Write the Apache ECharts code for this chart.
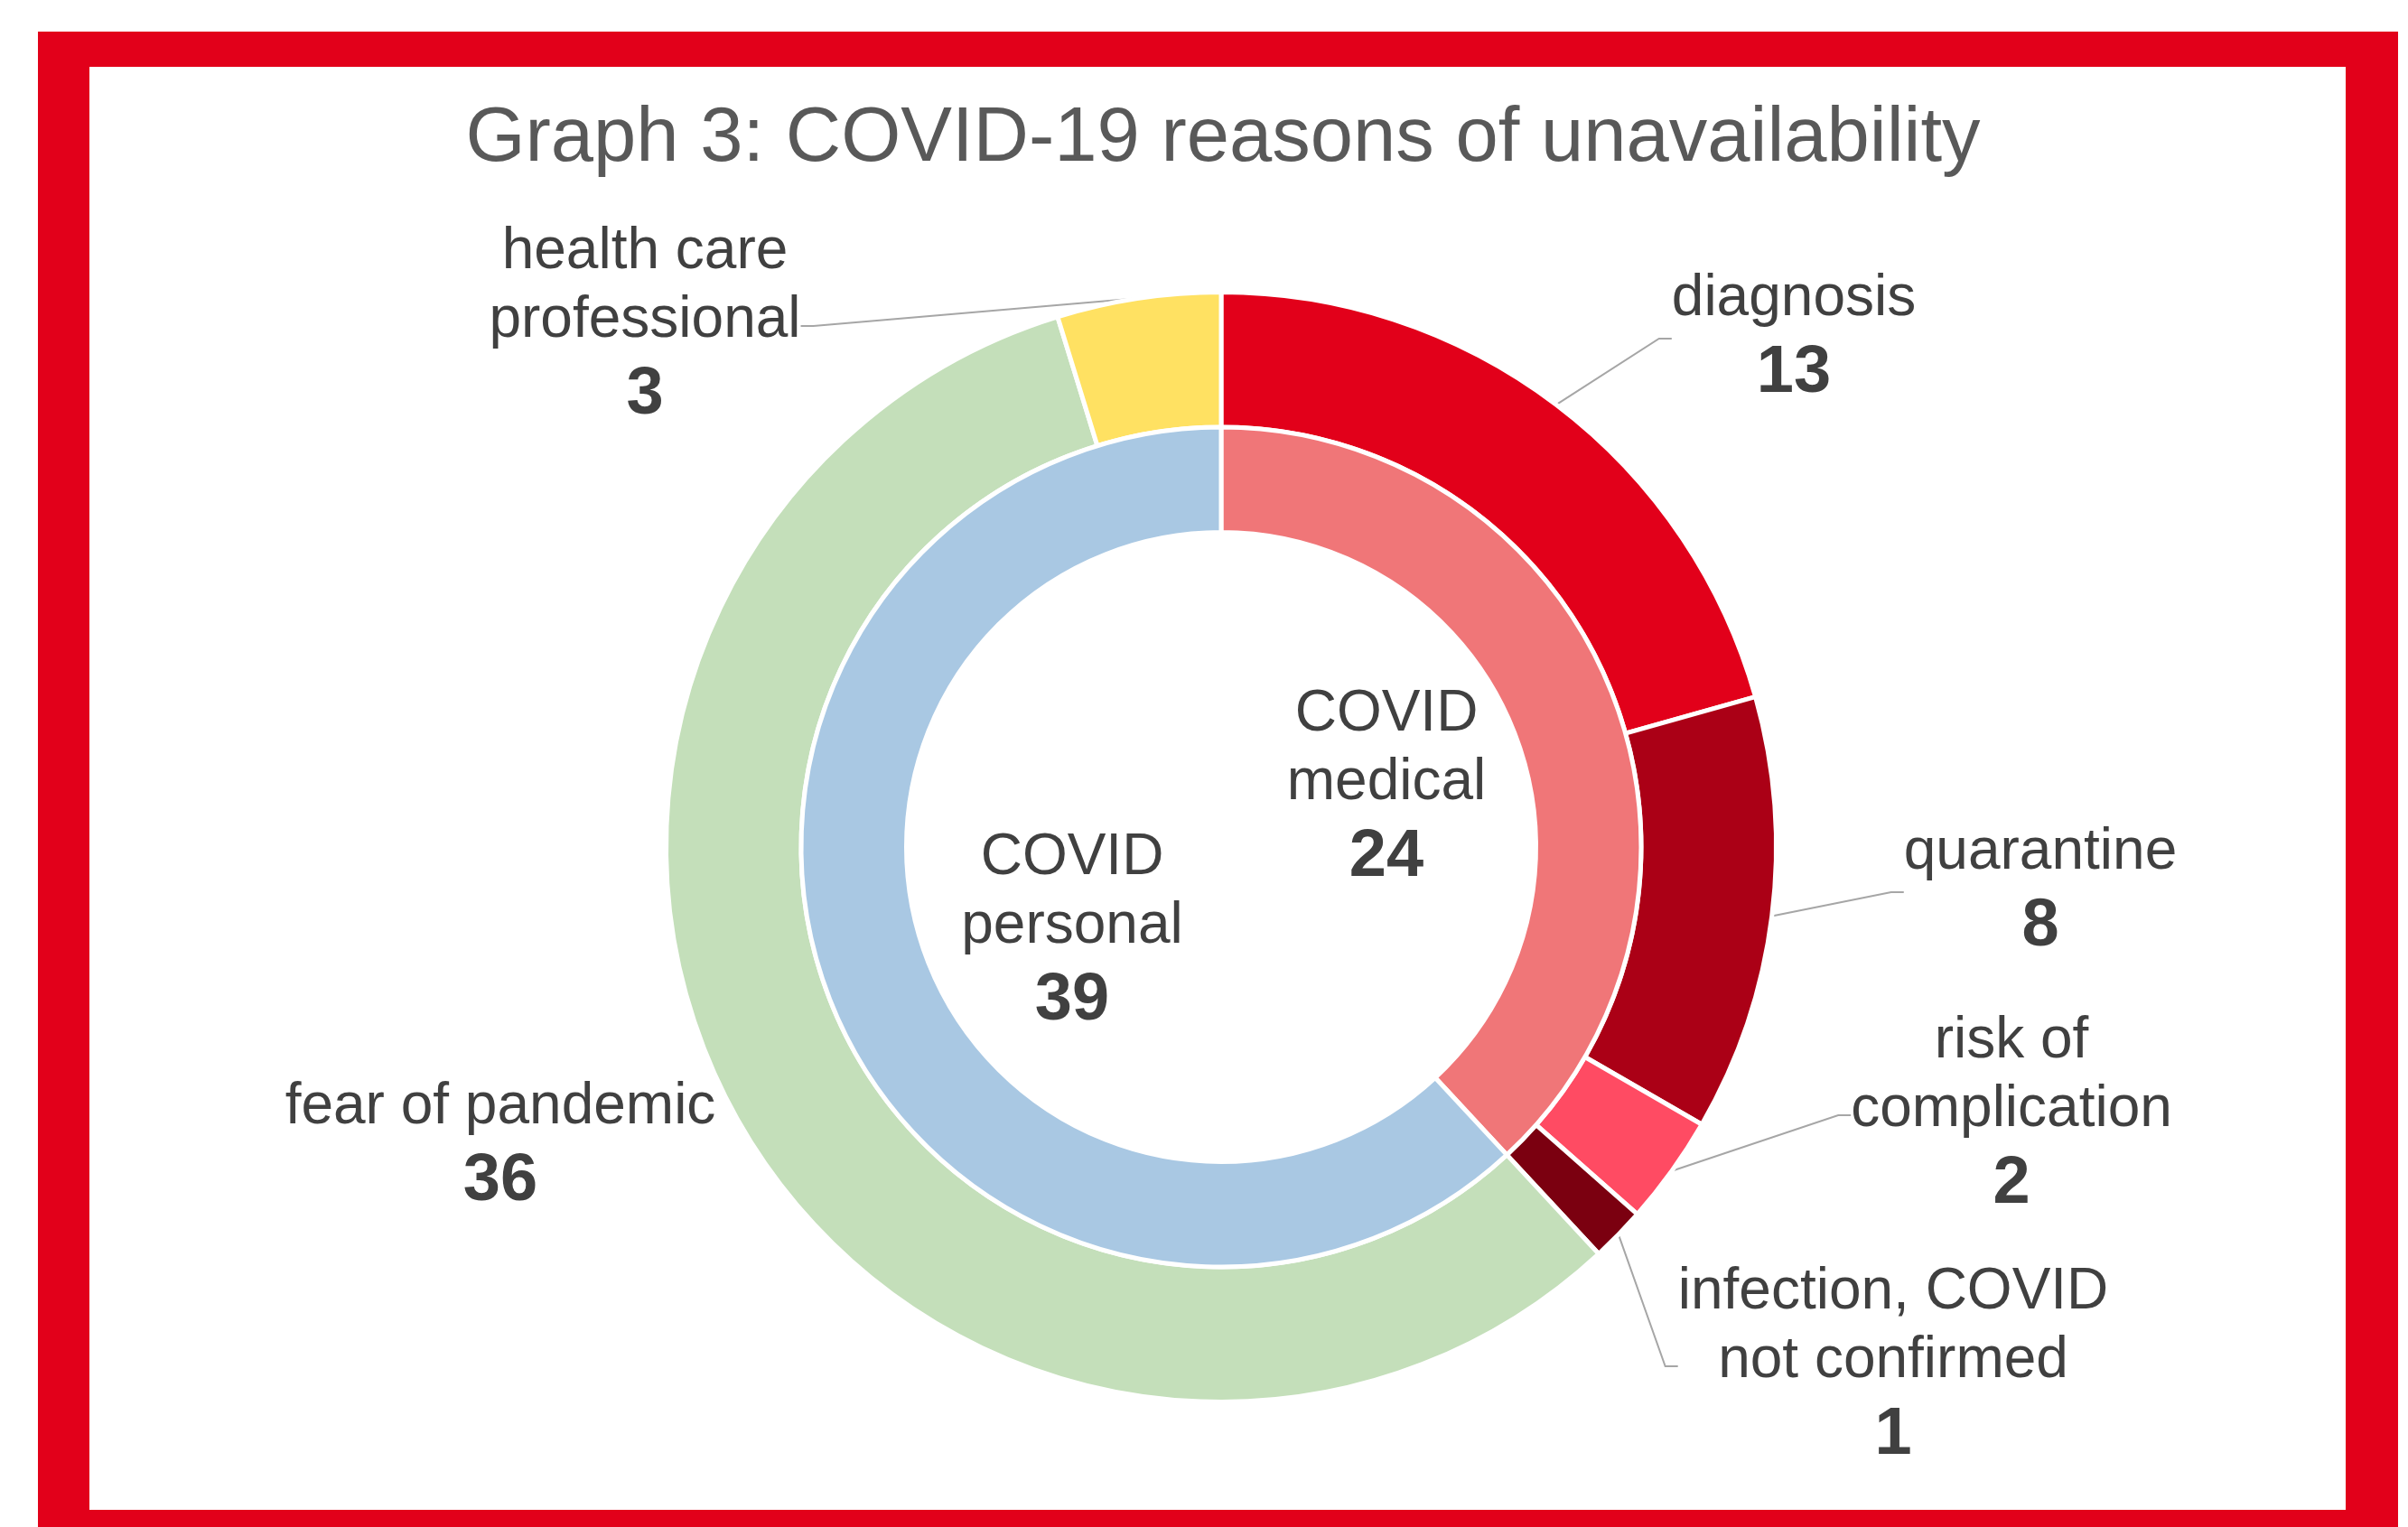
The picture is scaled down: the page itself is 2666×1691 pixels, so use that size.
<!DOCTYPE html>
<html>
<head>
<meta charset="utf-8">
<title>Graph 3</title>
<script src="https://cdn.jsdelivr.net/npm/echarts@6/dist/echarts.min.js"></script>
<style>
  html, body {
    margin: 0;
    padding: 0;
    background: #fff;
  }
  #frame {
    position: absolute;
    left: 42px;
    top: 35px;
    width: 2613px;
    height: 1656px;
    background: #e2001a;
  }
  #inner {
    position: absolute;
    left: 99px;
    top: 74px;
    width: 2498px;
    height: 1598px;
    background: #fff;
  }
  #chart {
    position: absolute;
    left: 0;
    top: 0;
    width: 2666px;
    height: 1691px;
  }
</style>
</head>
<body>
<div id="frame"></div>
<div id="inner"></div>
<div id="chart"></div>
<script>
// reasons (outer ring), clockwise from 12 o'clock
const outerNames = [
  'diagnosis',
  'quarantine',
  'risk of\ncomplication',
  'infection, COVID\nnot confirmed',
  'fear of pandemic',
  'health care\nprofessional'
];
const outerValues = [13, 8, 2, 1, 36, 3];

// groups (inner ring)
const innerNames = ['COVID\nmedical', 'COVID\npersonal'];
const innerValues = [24, 39];

const outerColors = ['#e2001a', '#ab0016', '#ff4b63', '#7b0010', '#c4dfba', '#ffe162'];
const innerColors = ['#f07678', '#a9c8e3'];

// where each label block sits (center of the text block)
const outerLabelPos = [[1986, 376], [2259, 989], [2227, 1236], [2096, 1514], [554, 1271], [714, 362]];
const innerLabelPos = [[1535, 874], [1187, 1033]];

const pieCenter = [1352, 938];
const fontFamily = "'Liberation Sans', Arial, sans-serif";

const chartInstance = echarts.init(document.getElementById('chart'));

const labelRich = {
  n: {
    fontFamily: fontFamily,
    fontSize: 64,
    lineHeight: 76,
    color: '#404040'
  },
  v: {
    fontFamily: fontFamily,
    fontSize: 74,
    fontWeight: 'bold',
    lineHeight: 90,
    color: '#404040'
  }
};

function labelText(p) {
  return '{n|' + p.name + '}\n{v|' + p.value + '}';
}

const initOption = {
  animation: false,
  title: {
    text: 'Graph 3: COVID-19 reasons of unavailability',
    left: 1349,
    top: 107,
    textAlign: 'center',
    textStyle: {
      fontFamily: fontFamily,
      fontSize: 85,
      fontWeight: 'normal',
      color: '#595959'
    }
  },
  series: [
    {
      name: 'reasons',
      type: 'pie',
      center: pieCenter,
      radius: [465, 614.5],
      startAngle: 90,
      avoidLabelOverlap: false,
      itemStyle: {
        borderColor: '#fff',
        borderWidth: 5
      },
      label: {
        show: true,
        position: 'outside',
        align: 'center',
        formatter: labelText,
        rich: labelRich
      },
      labelLine: {
        show: true,
        length: 20,
        length2: 14,
        lineStyle: {
          color: '#a6a6a6',
          width: 2
        }
      },
      labelLayout: function (params) {
        const pos = outerLabelPos[params.dataIndex];
        return {
          x: pos[0],
          y: pos[1],
          align: 'center',
          verticalAlign: 'middle'
        };
      },
      data: outerNames.map((name, i) => ({
        name: name,
        value: outerValues[i],
        itemStyle: { color: outerColors[i] },
        // no leader line for fear of pandemic
        labelLine: { show: name !== 'fear of pandemic' }
      }))
    },
    {
      name: 'groups',
      type: 'pie',
      center: pieCenter,
      radius: [348.5, 465],
      startAngle: 90,
      avoidLabelOverlap: false,
      itemStyle: {
        borderColor: '#fff',
        borderWidth: 5
      },
      label: {
        show: true,
        position: 'outside',
        align: 'center',
        formatter: labelText,
        rich: labelRich
      },
      labelLine: {
        show: false
      },
      labelLayout: function (params) {
        const pos = innerLabelPos[params.dataIndex];
        return {
          x: pos[0],
          y: pos[1],
          align: 'center',
          verticalAlign: 'middle'
        };
      },
      data: innerNames.map((name, i) => ({
        name: name,
        value: innerValues[i],
        itemStyle: { color: innerColors[i] }
      }))
    }
  ]
};
chartInstance.setOption(initOption);
</script>
</body>
</html>
